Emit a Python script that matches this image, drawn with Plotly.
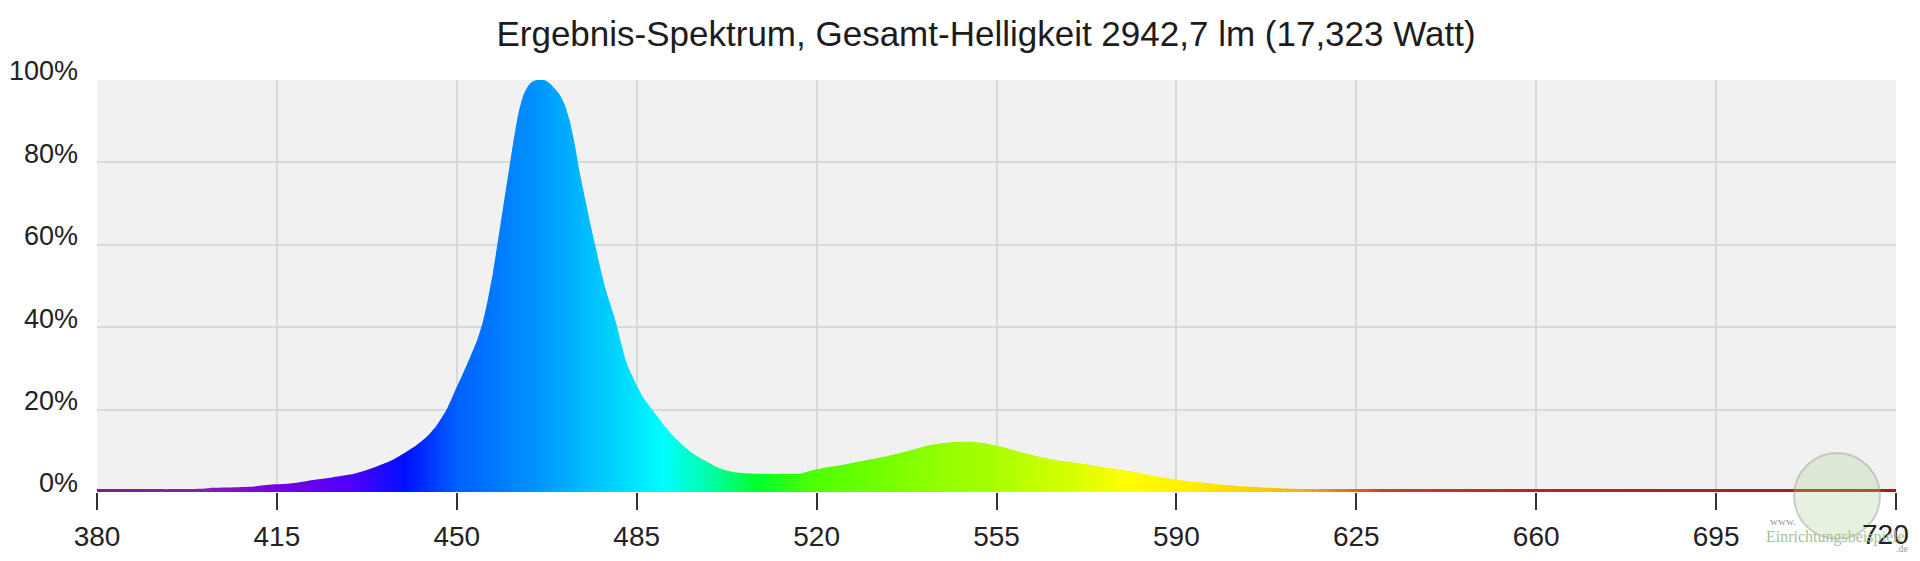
import plotly.graph_objects as go

# spectrum (nm, % of peak)
wavelength = [380, 385, 390, 395, 400, 402, 405, 410, 413, 418, 422, 426, 430, 434, 437,
              440, 442, 444, 446, 448, 450, 452, 454, 455, 456, 457, 458, 459, 460, 461,
              462, 463, 464, 465, 466, 467, 468, 469, 470, 471, 472, 473, 474, 475, 476,
              477, 478, 479, 480, 481, 482, 483, 484, 486, 488, 490, 492, 494, 496, 498,
              500, 502, 504, 507, 510, 514, 517, 519, 522, 526, 530, 534, 538, 542, 546,
              550, 553, 556, 560, 564, 568, 572, 577, 582, 586, 590, 594, 598, 603, 607,
              612, 616, 620, 630, 650, 680, 700, 730]
intensity = [0.7, 0.7, 0.7, 0.7, 0.8, 1.0, 1.1, 1.3, 1.7, 2.1, 2.9, 3.6, 4.4, 6.0, 7.5,
             9.6, 11.2, 13.2, 16.0, 20.0, 25.5, 31.0, 37.0, 41.0, 46.5, 53.0, 61.0, 69.0, 77.0, 85.0,
             92.0, 96.5, 98.8, 99.8, 100.0, 100.0, 99.3, 98.0, 96.5, 94.0, 90.0, 84.0, 77.0, 71.0, 65.0,
             59.5, 54.0, 49.0, 45.0, 41.0, 36.0, 31.5, 28.5, 23.5, 20.0, 16.7, 13.7, 11.3, 9.3, 7.8,
             6.4, 5.4, 4.8, 4.5, 4.4, 4.4, 4.5, 5.2, 6.0, 6.8, 7.8, 8.8, 10.0, 11.4, 12.1,
             12.2, 11.8, 11.0, 9.6, 8.4, 7.5, 6.8, 5.8, 4.8, 3.8, 3.0, 2.4, 1.9, 1.4, 1.1,
             0.8, 0.7, 0.7, 0.7, 0.7, 0.7, 0.7, 0.7]

# colour of light per wavelength, used for the fill
color_nm = [380, 400, 415, 430, 440, 450, 465, 478, 490, 500, 508, 520, 540, 555,
            570, 580, 592, 605, 615, 630, 660, 730]
color_rgb = ["#7d2088", "#8420b0", "#7a00e0", "#4c00ff", "#0010ff", "#0060ff", "#0092ff",
             "#00c8ff", "#00fcff", "#00ffa0", "#00ff30", "#50ff00", "#88ff00", "#aaff00",
             "#d8ff00", "#ffff00", "#fff000", "#ffd000", "#f0b010", "#d04020", "#c02020",
             "#b01818"]

x_ticks = [380, 415, 450, 485, 520, 555, 590, 625, 660, 695, 730]
x_labels = ["380", "415", "450", "485", "520", "555", "590", "625", "660", "695", "720"]
y_ticks = [0, 20, 40, 60, 80, 100]
y_labels = ["0%", "20%", "40%", "60%", "80%", "100%"]

x_min, x_max = 380, 730
scale = [[(nm - x_min) / (x_max - x_min), c] for nm, c in zip(color_nm, color_rgb)]

fig = go.Figure()
fig.add_trace(go.Scatter(
    x=wavelength, y=intensity, mode="lines", fill="tozeroy",
    line=dict(width=0, color="rgba(0,0,0,0)", shape="spline", smoothing=0.6),
    fillgradient=dict(type="horizontal", colorscale=scale, start=x_min, stop=x_max),
    hoverinfo="x+y", showlegend=False,
))

# page has an 8px body margin, so the figure is 16px smaller than the window
font = "Liberation Sans, Arial, sans-serif"
fig.update_layout(
    width=1904, height=545,
    margin=dict(l=89, r=16, t=72, b=61),
    paper_bgcolor="white", plot_bgcolor="#f1f1f1",
    title=dict(text="Ergebnis-Spektrum, Gesamt-Helligkeit 2942,7 lm (17,323 Watt)",
               x=978 / 1904, xanchor="center", xref="container",
               y=1 - 26 / 545, yanchor="middle", yref="container",
               font=dict(family=font, size=35, color="#1c1c1c")),
    font=dict(family=font, color="#222"),
)
# last label drawn separately so it can sit flush with the right edge
fig.update_xaxes(range=[x_min, x_max], tickvals=x_ticks, ticktext=x_labels[:-1] + [""],
                 ticks="outside", ticklen=17, tickwidth=2, tickcolor="#333",
                 showline=False, zeroline=False, showgrid=True,
                 gridcolor="#d9d9d9", gridwidth=1.5, automargin=False,
                 ticklabelstandoff=2, tickfont=dict(size=28))
fig.update_yaxes(range=[0, 100], tickvals=y_ticks, ticktext=y_labels,
                 ticks="", showline=False, zeroline=False, showgrid=True,
                 gridcolor="#d9d9d9", gridwidth=1.5, automargin=False,
                 ticklabeloverflow="allow",
                 ticklabelstandoff=18, ticklabelshift=-9, tickfont=dict(size=27))
fig.add_annotation(text=x_labels[-1], xref="paper", yref="paper", x=1, y=0,
                   xanchor="right", yanchor="top", xshift=15, yshift=-25, showarrow=False,
                   font=dict(family=font, size=28, color="#222"))

# watermark bottom right
fig.add_shape(type="circle", xref="paper", yref="paper",
              x0=(1786 - 89) / 1799, x1=(1872 - 89) / 1799,
              y0=(484 - 531) / 412, y1=(484 - 445) / 412,
              fillcolor="rgba(175,210,150,0.3)", line=dict(color="rgba(150,150,150,0.45)", width=2))
fig.add_annotation(text="www.", xref="paper", yref="paper", showarrow=False,
                   x=(1760 - 89) / 1799, y=(484 - 513) / 412, xanchor="left", yanchor="middle",
                   font=dict(family="Liberation Serif", size=11, color="#9a9a9a"))
fig.add_annotation(text="Einrichtungsbeispiele", xref="paper", yref="paper", showarrow=False,
                   x=(1756 - 89) / 1799, y=(484 - 529) / 412, xanchor="left", yanchor="middle",
                   font=dict(family="Liberation Serif", size=16, color="#a3c492"))
fig.add_annotation(text=".de", xref="paper", yref="paper", showarrow=False,
                   x=(1886 - 89) / 1799, y=(484 - 540) / 412, xanchor="left", yanchor="middle",
                   font=dict(family="Liberation Serif", size=10, color="#9a9a9a"))

fig.write_html("out.html")
